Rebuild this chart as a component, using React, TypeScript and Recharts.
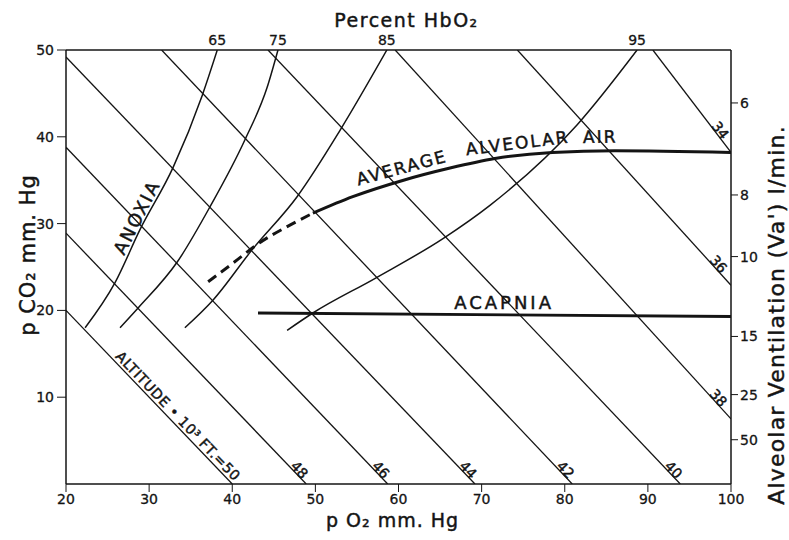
import React from "react";
import { ComposedChart, Line, XAxis, YAxis, ReferenceDot, Label } from "recharts";

const INK = "#141414";
const FONT = "'DejaVu Sans', Verdana, sans-serif";

// plot box inside the 789x540 svg
const W = 789;
const H = 540;
const PLOT = { left: 66, top: 50, right: 731, bottom: 484 };
const KX = (PLOT.right - PLOT.left) / 80; // px per mm Hg of pO2
const KY = (PLOT.bottom - PLOT.top) / 50; // px per mm Hg of pCO2

// axes (mm Hg)
const o2Ticks = [20, 30, 40, 50, 60, 70, 80, 90, 100];
const co2Ticks = [10, 20, 30, 40, 50];

// right scale: alveolar ventilation (l/min) and the pCO2 each mark sits at
const ventLabels = [6, 8, 10, 15, 25, 50];
const ventAtCO2 = [43.9, 33.3, 26.2, 17.0, 10.3, 5.1];

// altitude isopleths, thousands of feet (straight lines, start -> end)
const altitudes = [50, 48, 46, 44, 42, 40, 38, 36, 34];
const altStartO2 = [20, 20, 20, 20, 31.5, 44.3, 59.6, 74.3, 90.6];
const altStartCO2 = [20, 28.9, 38.8, 49.2, 50, 50, 50, 50, 50];
const altEndO2 = [40, 48.9, 58.7, 69.2, 80.9, 93.9, 100, 100, 100];
const altEndCO2 = [0, 0, 0, 0, 0, 0, 7.5, 22.9, 38.2];

// percent HbO2 isopleths
const hbLabels = [65, 75, 85, 95];
const hb65O2 = [22.3, 25.9, 28.9, 32.9, 36.4, 38.2];
const hb65CO2 = [18.0, 23.2, 29.3, 36.5, 44.8, 50];
const hb75O2 = [26.5, 28.7, 33.4, 37.3, 41.5, 44.2, 45.5];
const hb75CO2 = [18.0, 20.3, 25.6, 31.9, 39.6, 45.7, 50];
const hb85O2 = [34.3, 37.7, 42.4, 47.8, 53.0, 58.6];
const hb85CO2 = [18.0, 21.2, 27.0, 33.1, 40.8, 50];
const hb95O2 = [46.6, 49.7, 57.2, 65.4, 71.0, 81.5, 88.7];
const hb95CO2 = [17.7, 19.7, 23.7, 28.3, 32.1, 41.4, 50];

// average alveolar air (dashed part, then solid)
const alvDashO2 = [37.1, 40.3, 43.3, 46.5, 49.7];
const alvDashCO2 = [23.3, 25.6, 27.8, 29.6, 31.2];
const alvO2 = [49.7, 54.5, 60.6, 66.2, 71.6, 78.5, 86.0, 100];
const alvCO2 = [31.2, 33.1, 35.0, 36.4, 37.5, 38.2, 38.4, 38.2];

// acapnia boundary
const acapO2 = [43.1, 100];
const acapCO2 = [19.7, 19.3];

const pts = (xs: number[], ys: number[]) => xs.map((o2, i) => ({ o2, co2: ys[i] }));

const altLines = altitudes.map((alt, i) => ({
  alt,
  data: pts([altStartO2[i], altEndO2[i]], [altStartCO2[i], altEndCO2[i]]),
}));

const hbCurves = [
  pts(hb65O2, hb65CO2),
  pts(hb75O2, hb75CO2),
  pts(hb85O2, hb85CO2),
  pts(hb95O2, hb95CO2),
];
// where each HbO2 curve meets the top edge
const hbTopTicks = hbCurves.map((c) => c[c.length - 1].o2);

// pen lettering: a touch of stroke to thicken the glyphs
const txt = {
  fill: INK,
  stroke: INK,
  strokeWidth: 0.45,
  fontFamily: FONT,
};

// rotated text placed at a data point
const rotText =
  (text: React.ReactNode, angle: number, dx: number, dy: number, size: number, anchor = "middle", spacing = 0) =>
  (p: any) =>
    (
      <g transform={`translate(${p.cx},${p.cy}) rotate(${angle})`}>
        <text x={dx} y={dy} textAnchor={anchor} fontSize={size} letterSpacing={spacing} {...txt}>
          {text}
        </text>
      </g>
    );

const TopTitle = (p: any) => {
  const vb = p.viewBox || { x: PLOT.left, y: 0, width: PLOT.right - PLOT.left, height: 50 };
  return (
    <text x={vb.x + vb.width / 2 + 8} y={27} textAnchor="middle" fontSize={19} letterSpacing={1.5} {...txt}>
      Percent HbO₂
    </text>
  );
};

const BottomTitle = (p: any) => {
  const vb = p.viewBox || { x: PLOT.left, y: PLOT.bottom, width: PLOT.right - PLOT.left, height: 56 };
  return (
    <text x={vb.x + vb.width / 2 - 6} y={vb.y + 43} textAnchor="middle" fontSize={19} letterSpacing={1} {...txt}>
      p O₂ mm. Hg
    </text>
  );
};

const LeftTitle = (p: any) => {
  const vb = p.viewBox || { x: 0, y: PLOT.top, width: 66, height: PLOT.bottom - PLOT.top };
  const cy = vb.y + vb.height / 2 - 12;
  return (
    <text
      transform={`translate(${vb.x + 35},${cy}) rotate(-90)`}
      textAnchor="middle"
      fontSize={21}
      letterSpacing={1}
      {...txt}
    >
      p CO₂ mm. Hg
    </text>
  );
};

const RightTitle = (p: any) => {
  const vb = p.viewBox || { x: PLOT.right, y: PLOT.top, width: W - PLOT.right, height: PLOT.bottom - PLOT.top };
  const cy = vb.y + vb.height / 2 + 48;
  return (
    <text
      transform={`translate(${vb.x + 53},${cy}) rotate(-90)`}
      textAnchor="middle"
      fontSize={22}
      letterSpacing={1.2}
      {...txt}
    >
      Alveolar Ventilation (Va') l/min.
    </text>
  );
};

const tickStyle = { fill: INK, stroke: INK, strokeWidth: 0.3, fontSize: 14, fontFamily: FONT };
const axisStroke = { stroke: INK, strokeWidth: 1.5 };

export default function App() {
  return (
    <div style={{ position: "absolute", left: 0, top: 0, background: "#fff" }}>
      <ComposedChart width={W} height={H} margin={{ top: 0, right: 0, bottom: 0, left: 0 }}>
        <XAxis
          dataKey="o2"
          type="number"
          domain={[20, 100]}
          ticks={o2Ticks}
          allowDataOverflow
          height={H - PLOT.bottom}
          tick={tickStyle}
          tickLine={{ stroke: INK }}
          axisLine={axisStroke}
          tickSize={8}
          tickMargin={2}
          label={<Label content={BottomTitle} />}
        />
        <XAxis
          xAxisId="top"
          orientation="top"
          dataKey="o2"
          type="number"
          domain={[20, 100]}
          ticks={hbTopTicks}
          tickFormatter={(v: number) => String(hbLabels[hbTopTicks.indexOf(v)] ?? "")}
          allowDataOverflow
          height={PLOT.top}
          tick={tickStyle}
          tickLine={false}
          tickSize={0}
          tickMargin={5}
          axisLine={axisStroke}
          label={<Label content={TopTitle} />}
        />
        <YAxis
          type="number"
          domain={[0, 50]}
          ticks={co2Ticks}
          allowDataOverflow
          width={PLOT.left}
          tick={tickStyle}
          tickLine={{ stroke: INK }}
          axisLine={axisStroke}
          tickSize={9}
          tickMargin={3}
          label={<Label content={LeftTitle} />}
        />
        <YAxis
          yAxisId="vent"
          orientation="right"
          type="number"
          domain={[0, 50]}
          ticks={ventAtCO2}
          tickFormatter={(v: number) => String(ventLabels[ventAtCO2.indexOf(v)] ?? "")}
          allowDataOverflow
          width={W - PLOT.right}
          tick={tickStyle}
          tickLine={{ stroke: INK }}
          axisLine={axisStroke}
          tickSize={7}
          tickMargin={2}
          label={<Label content={RightTitle} />}
        />

        {altLines.map((l) => (
          <Line
            key={"alt" + l.alt}
            data={l.data}
            dataKey="co2"
            type="linear"
            stroke={INK}
            strokeWidth={1.3}
            dot={false}
            activeDot={false}
            legendType="none"
            isAnimationActive={false}
          />
        ))}

        {hbCurves.map((c, i) => (
          <Line
            key={"hb" + hbLabels[i]}
            data={c}
            dataKey="co2"
            type="monotone"
            stroke={INK}
            strokeWidth={1.5}
            dot={false}
            activeDot={false}
            legendType="none"
            isAnimationActive={false}
          />
        ))}

        <Line
          data={pts(alvDashO2, alvDashCO2)}
          dataKey="co2"
          type="monotone"
          stroke={INK}
          strokeWidth={3}
          strokeDasharray="10 6"
          dot={false}
          activeDot={false}
          legendType="none"
          isAnimationActive={false}
        />
        <Line
          data={pts(alvO2, alvCO2)}
          dataKey="co2"
          type="monotone"
          stroke={INK}
          strokeWidth={3}
          dot={false}
          activeDot={false}
          legendType="none"
          isAnimationActive={false}
        />
        <Line
          data={pts(acapO2, acapCO2)}
          dataKey="co2"
          type="linear"
          stroke={INK}
          strokeWidth={2.8}
          dot={false}
          activeDot={false}
          legendType="none"
          isAnimationActive={false}
        />

        {altLines.map((l, i) => {
          const s = l.data[0];
          const e = l.data[1];
          const ang = (Math.atan2((s.co2 - e.co2) * KY, (e.o2 - s.o2) * KX) * 180) / Math.PI;
          const first = i === 0;
          const atBottom = e.co2 === 0;
          return (
            <ReferenceDot
              key={"altlab" + l.alt}
              x={e.o2}
              y={e.co2}
              r={0}
              ifOverflow="visible"
              shape={
                first
                  ? rotText("ALTITUDE • 10³ FT.=50", ang, 0, -3, 14, "end", 0.6)
                  : rotText(String(l.alt), ang, atBottom ? -15 : -24, 0, 14)
              }
            />
          );
        })}

        <ReferenceDot x={29.4} y={30.3} r={0} ifOverflow="visible" shape={rotText("ANOXIA", -63, 0, -2, 18, "middle", 2)} />
        <ReferenceDot x={60.8} y={35.0} r={0} ifOverflow="visible" shape={rotText("AVERAGE", -15, 0, -7, 17, "middle", 2)} />
        <ReferenceDot x={74.5} y={37.8} r={0} ifOverflow="visible" shape={rotText("ALVEOLAR", -7, 0, -7, 17, "middle", 2)} />
        <ReferenceDot x={84.3} y={38.4} r={0} ifOverflow="visible" shape={rotText("AIR", -1, 0, -8, 17, "middle", 2)} />
        <ReferenceDot x={72.7} y={19.6} r={0} ifOverflow="visible" shape={rotText("ACAPNIA", 0, 0, -5, 18, "middle", 3)} />
      </ComposedChart>
    </div>
  );
}
